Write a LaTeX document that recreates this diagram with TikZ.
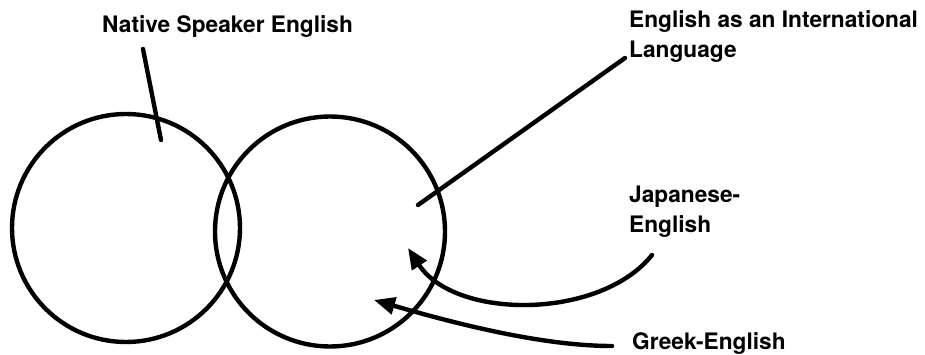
\documentclass[tikz,border=0pt]{standalone}
\usepackage{fontspec}
\setmainfont{TeX Gyre Heros}
\usetikzlibrary{arrows.meta}
\begin{document}
\begin{tikzpicture}[x=1pt, y=-1pt,
  ink/.style={line width=4.4pt, line cap=round},
  ring/.style={draw, circle, ink, inner sep=0pt},
  lbl/.style={anchor=base west, inner sep=0pt, align=left,
    font=\bfseries\fontsize{22.7}{30}\selectfont},
  pointer/.style={ink, -{Triangle[length=21pt, width=17pt]}}]
  \useasboundingbox (0,0) rectangle (925,355);

  % the two overlapping varieties
  \node[ring, minimum size=228pt] (nse) at (126,228) {};
  \node[ring, minimum size=230pt] (eil) at (330,231.5) {};

  % labels (a multi-line label sits on the baseline of its last line)
  \node[lbl] (nselbl) at (102,33) {Native Speaker English};
  \node[lbl] (eillbl) at (629,58) {English as an International\\Language};
  \node[lbl] (jelbl)  at (629,233) {Japanese-\\English};
  \node[lbl] (gelbl)  at (632,349.5) {Greek-English};

  % ends of the leader lines and arrows
  \coordinate (nsetop) at (143,49);
  \coordinate (nsein)  at (161,140);
  \coordinate (eiltop) at (625,58);
  \coordinate (eilin)  at (418,205);
  \coordinate (jefrom) at (652,255);
  \coordinate (jeto)   at (408,248);
  \coordinate (gefrom) at (612,346);
  \coordinate (geto)   at (374,300);

  \draw[ink] (nsetop) -- (nsein);
  \draw[ink] (eiltop) -- (eilin);
  \draw[pointer] (jefrom) .. controls (600,320) and (455,320) .. (jeto);
  \draw[pointer] (gefrom) .. controls (540,346) and (450,322) .. (geto);
\end{tikzpicture}
\end{document}
